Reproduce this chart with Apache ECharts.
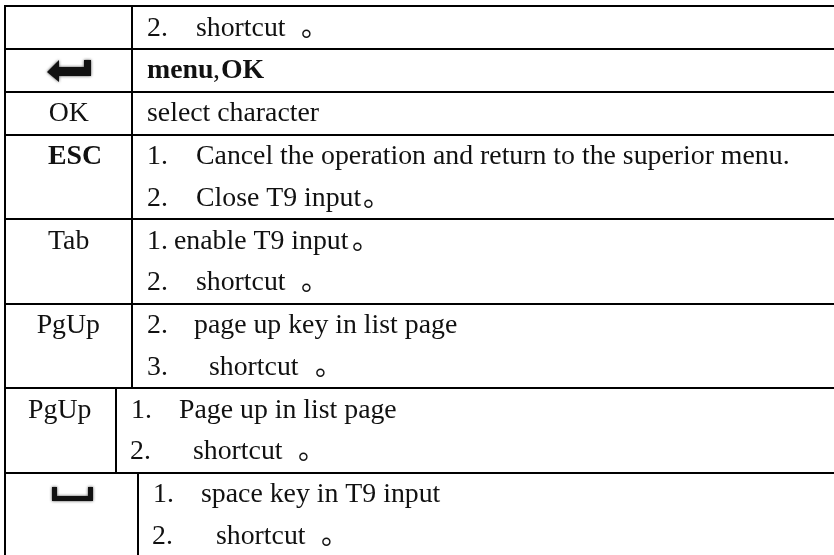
<!DOCTYPE html>
<html><head><meta charset="utf-8">
<style>html,body{margin:0;padding:0;background:#fff}#c{width:834px;height:555px}</style>
<script src="https://cdn.jsdelivr.net/npm/echarts@6/dist/echarts.min.js"></script>
</head><body><div id="c"></div>
<script>
// Table content
const keyLabels = ['', '', 'OK', 'ESC', 'Tab', 'PgUp', 'PgUp', ''];
const lineNumbers = ['2.', '', '', '1.', '2.', '1.', '2.', '2.', '3.', '1.', '2.', '1.', '2.'];
const lineTexts = ['shortcut', 'menu,OK', 'select character', 'Cancel the operation and return to the superior menu.', 'Close T9 input', 'enable T9 input', 'shortcut', 'page up key in list page', 'shortcut', 'Page up in list page', 'shortcut', 'space key in T9 input', 'shortcut'];
const lineMarks = ['。', '', '', '', '。', '。', '。', '', '。', '', '。', '', '。'];

// Layout (separate from content)
const FONT = '"Liberation Serif","Noto Sans CJK SC",serif';
const SIZE = 27.8;
const BASE = 9;
const hLines = [6, 49, 92, 135, 219, 304, 388, 473];
const rowSplit = [[5,49,132],[49,92,132],[92,135,132],[135,219,132],[219,304,132],[304,388,132],[388,473,116],[473,555,138]];
const keyCx = [68.5,68.5,68.7,75,68.7,68.3,59.7,68.5];
const keyBase = [0,0,123,165.7,250.7,335,420,0];
const lineBase = [37.3,80,123,165.7,208,250.7,291.7,335,376.7,420,461,504,545.7];
const numX = [147,147,147,147,147,147,147,147,147,131,130,153,152];
const txtX = [196,147,147,196,196,174,196,194,209,179,193,201,216];
const markX= [301,0,0,0,363,352,301,0,315,0,298,0,321];

const g = [];
g.push({type:'rect',shape:{x:0,y:0,width:834,height:555},style:{fill:'#fff'}});
const ln=(x1,y1,x2,y2)=>g.push({type:'line',shape:{x1,y1,x2,y2},style:{stroke:'#000',lineWidth:2}});
const tx=(s,x,b,o={})=>g.push({type:'text',x,y:b-BASE,style:{text:s,font:(o.bold?'bold ':'')+SIZE+'px '+FONT,fill:'#111',textAlign:o.align||'left',textVerticalAlign:'middle'}});
hLines.forEach(y=>ln(4,y,834,y));
ln(5,5,5,555);
rowSplit.forEach(r=>ln(r[2],r[0],r[2],r[1]));
keyLabels.forEach((k,i)=>{ if(k) tx(k,keyCx[i],keyBase[i],{align:'center',bold:k==='ESC'}); });
lineTexts.forEach((t,i)=>{
  if(lineNumbers[i]) tx(lineNumbers[i],numX[i],lineBase[i]);
  if(t==='menu,OK'){
    tx('menu',txtX[i],lineBase[i],{bold:true}); tx(',',txtX[i]+66,lineBase[i]); tx('OK',txtX[i]+74,lineBase[i],{bold:true});
  } else tx(t,txtX[i],lineBase[i]);
  if(lineMarks[i]) tx(lineMarks[i],markX[i],lineBase[i]);
});
// key glyphs
g.push({type:'polygon',shape:{points:[[47,72],[59,60],[59,67],[84,67],[84,60],[91,60],[91,76],[59,76],[59,82]]},style:{fill:'#111',shadowBlur:3,shadowColor:'#444'}});
g.push({type:'polygon',shape:{points:[[52,487],[57,487],[57,496],[88,496],[88,487],[93,487],[93,501],[52,501]]},style:{fill:'#111',shadowBlur:3,shadowColor:'#444'}});
const chart = echarts.init(document.getElementById('c'),null,{renderer:'canvas'});
chart.setOption({animation:false,graphic:{elements:g}});
</script></body></html>
